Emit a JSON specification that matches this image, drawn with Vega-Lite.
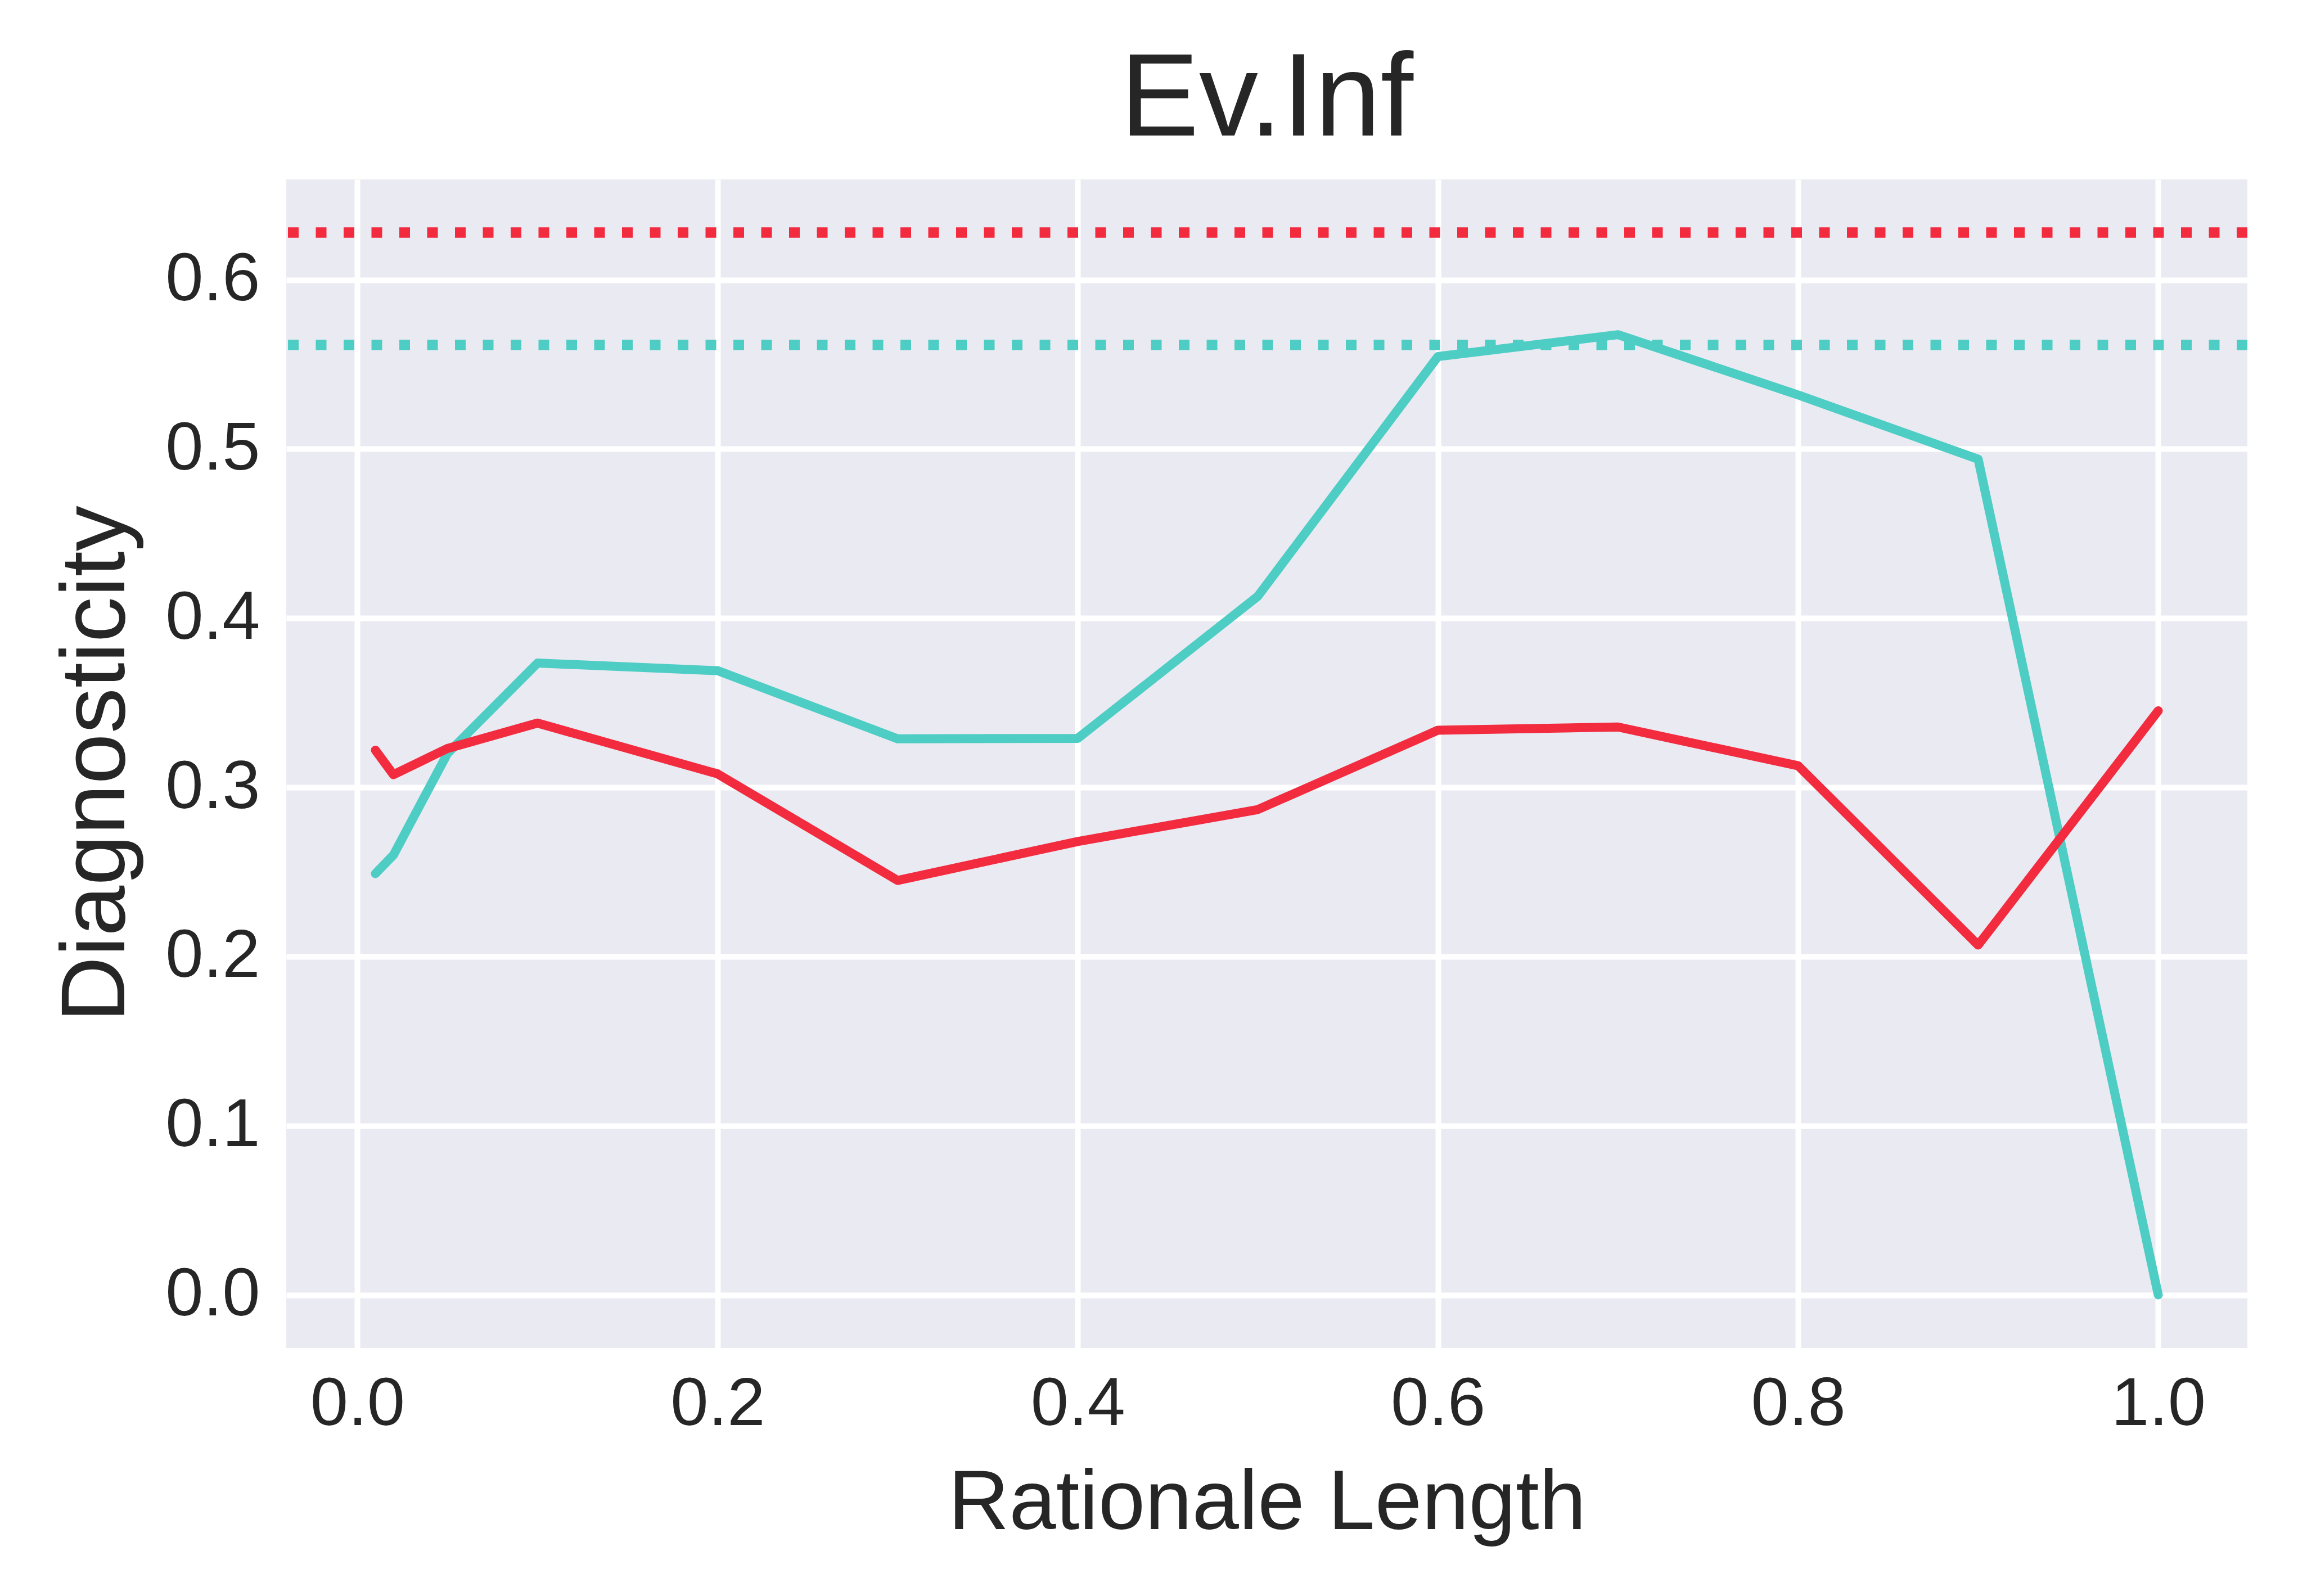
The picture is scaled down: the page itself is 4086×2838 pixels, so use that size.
{
  "$schema": "https://vega.github.io/schema/vega-lite/v6.json",
  "autosize": {"type": "none"},
  "padding": {"left": 509, "top": 319, "right": 90, "bottom": 441},
  "width": 3487,
  "height": 2078,
  "background": "white",
  "title": {
    "text": "Ev.Inf",
    "fontSize": 210,
    "font": "Liberation Sans",
    "fontWeight": "normal",
    "color": "#262626",
    "anchor": "middle",
    "baseline": "alphabetic",
    "offset": 74,
    "dy": 206
  },
  "config": {
    "view": {"fill": "#EAEAF2", "stroke": null},
    "axis": {
      "domain": false,
      "ticks": false,
      "tickSize": 0,
      "grid": true,
      "gridColor": "#FFFFFF",
      "gridWidth": 10,
      "gridOpacity": 1,
      "labelFont": "Liberation Sans",
      "labelFontSize": 121,
      "labelColor": "#262626",
      "titleFont": "Liberation Sans",
      "titleFontSize": 150,
      "titleFontWeight": "normal",
      "titleColor": "#262626"
    }
  },
  "datasets": {
    "curves": [
      {"length": 0.01, "diagnosticity": 0.249, "series": "s1"},
      {"length": 0.02, "diagnosticity": 0.260, "series": "s1"},
      {"length": 0.05, "diagnosticity": 0.320, "series": "s1"},
      {"length": 0.1, "diagnosticity": 0.3735, "series": "s1"},
      {"length": 0.2, "diagnosticity": 0.369, "series": "s1"},
      {"length": 0.3, "diagnosticity": 0.3287, "series": "s1"},
      {"length": 0.4, "diagnosticity": 0.329, "series": "s1"},
      {"length": 0.5, "diagnosticity": 0.413, "series": "s1"},
      {"length": 0.6, "diagnosticity": 0.5547, "series": "s1"},
      {"length": 0.7, "diagnosticity": 0.5676, "series": "s1"},
      {"length": 0.8, "diagnosticity": 0.532, "series": "s1"},
      {"length": 0.9, "diagnosticity": 0.494, "series": "s1"},
      {"length": 1.0, "diagnosticity": 0.0, "series": "s1"},
      {"length": 0.01, "diagnosticity": 0.322, "series": "s2"},
      {"length": 0.02, "diagnosticity": 0.3075, "series": "s2"},
      {"length": 0.05, "diagnosticity": 0.323, "series": "s2"},
      {"length": 0.1, "diagnosticity": 0.338, "series": "s2"},
      {"length": 0.2, "diagnosticity": 0.308, "series": "s2"},
      {"length": 0.3, "diagnosticity": 0.245, "series": "s2"},
      {"length": 0.4, "diagnosticity": 0.268, "series": "s2"},
      {"length": 0.5, "diagnosticity": 0.2869, "series": "s2"},
      {"length": 0.6, "diagnosticity": 0.3338, "series": "s2"},
      {"length": 0.7, "diagnosticity": 0.3357, "series": "s2"},
      {"length": 0.8, "diagnosticity": 0.3128, "series": "s2"},
      {"length": 0.9, "diagnosticity": 0.2068, "series": "s2"},
      {"length": 1.0, "diagnosticity": 0.3453, "series": "s2"}
    ],
    "baselines": [
      {"diagnosticity": 0.5616, "series": "s1"},
      {"diagnosticity": 0.628, "series": "s2"}
    ]
  },
  "layer": [
    {
      "data": {"name": "curves"},
      "transform": [{"filter": "datum.series === 's1'"}],
      "mark": {"type": "line", "strokeWidth": 16, "strokeCap": "round", "strokeJoin": "round", "color": "#4ECDC4"},
      "encoding": {
        "x": {
          "field": "length",
          "type": "quantitative",
          "scale": {"domain": [-0.0395, 1.0495], "nice": false, "zero": false},
          "axis": {
            "title": "Rationale Length",
            "values": [0, 0.2, 0.4, 0.6, 0.8, 1.0],
            "format": ".1f",
            "labelBaseline": "alphabetic",
            "labelPadding": 136,
            "labelFlush": false,
            "titleBaseline": "alphabetic",
            "titleY": 321
          }
        },
        "y": {
          "field": "diagnosticity",
          "type": "quantitative",
          "scale": {"domain": [-0.0314, 0.6594], "nice": false, "zero": false},
          "axis": {
            "title": "Diagnosticity",
            "values": [0, 0.1, 0.2, 0.3, 0.4, 0.5, 0.6],
            "format": ".1f",
            "labelPadding": 47,
            "labelFlush": false,
            "titleAngle": 270,
            "titleBaseline": "alphabetic",
            "titleFontSize": 162,
            "titleX": -289
          }
        }
      }
    },
    {
      "data": {"name": "curves"},
      "transform": [{"filter": "datum.series === 's2'"}],
      "mark": {"type": "line", "strokeWidth": 16, "strokeCap": "round", "strokeJoin": "round", "color": "#F22B3F"},
      "encoding": {
        "x": {"field": "length", "type": "quantitative"},
        "y": {"field": "diagnosticity", "type": "quantitative"}
      }
    },
    {
      "data": {"name": "baselines"},
      "mark": {"type": "rule", "strokeWidth": 18.5, "strokeDash": [19, 30.5], "strokeCap": "butt"},
      "encoding": {
        "y": {"field": "diagnosticity", "type": "quantitative"},
        "color": {
          "field": "series",
          "type": "nominal",
          "scale": {"domain": ["s1", "s2"], "range": ["#4ECDC4", "#F22B3F"]},
          "legend": null
        }
      }
    }
  ]
}
